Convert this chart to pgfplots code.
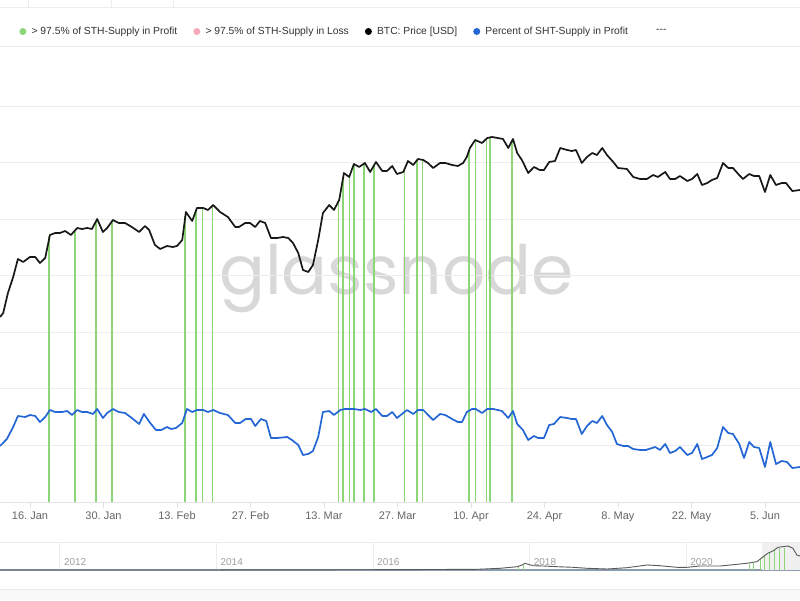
\documentclass[border=0pt]{standalone}
\usepackage{pgfplots}
\pgfplotsset{compat=1.18}
\usepackage{pgfplotstable}
\usepackage{fontspec}
\setmainfont{Liberation Sans}
\newfontfamily\wmfont{Poppins}

\definecolor{sthgreen}{RGB}{140,214,120}
\definecolor{sthpink}{RGB}{244,170,184}
\definecolor{pricecol}{RGB}{24,24,24}
\definecolor{pctblue}{RGB}{36,102,212}
\definecolor{gridc}{RGB}{236,236,236}
\definecolor{axisc}{RGB}{226,226,226}
\definecolor{labc}{RGB}{102,102,102}
\definecolor{legc}{RGB}{51,51,51}
\definecolor{navline}{RGB}{140,156,178}
\definecolor{wmc}{RGB}{216,216,216}

% day of 2021 (1 = 1 Jan); no y scale is shown, so heights are screen units above the x axis
\pgfplotstableread{
day price
10.3 185
10.9 189
11.8 209
12.8 225
13.7 243
14.7 240
16.0 245
17.0 245
17.9 239
18.9 244
19.8 267
20.8 269
21.7 269
22.7 271
23.8 267
25.0 274
25.9 273
26.9 274
27.8 273
28.8 283
29.9 270
30.7 274
31.8 282
32.9 279
34.1 279
35.4 275
36.8 270
37.9 276
38.7 272
39.8 257
40.8 253
42.1 256
43.2 255
44.0 256
45.0 262
45.7 290
46.9 281
47.8 294
49.0 294
49.9 292
50.9 297
52.2 290
53.7 285
55.1 275
55.8 275
57.0 279
57.9 279
58.9 275
59.8 281
60.8 279
61.9 264
63.1 264
64.2 265
65.2 264
66.1 259
67.1 249
68.0 232
69.0 230
69.9 237
70.9 262
71.8 289
73.0 297
73.9 292
74.9 302
75.8 329
76.8 325
77.7 338
78.7 335
79.8 339
80.8 330
81.9 340
83.1 331
84.0 331
85.0 336
85.9 328
87.1 330
88.0 341
89.0 337
89.9 343
90.9 342
91.8 339
92.8 334
94.1 339
95.1 339
96.4 337
97.5 336
98.5 339
99.2 345
99.8 354
100.8 362
102.1 359
103.1 364
104.0 365
105.1 364
106.1 363
107.1 354
108.0 363
108.8 349
109.7 342
110.9 329
112.0 335
113.1 332
113.9 332
114.9 340
116.0 341
117.0 354
118.3 352
119.2 351
120.0 352
121.1 339
122.1 345
123.1 349
124.0 347
125.0 354
125.9 347
127.1 340
128.0 334
129.7 333
130.9 325
132.2 323
133.5 323
134.7 327
135.6 325
137.0 330
137.9 323
138.9 323
139.8 326
141.2 321
142.1 323
143.1 328
144.0 317
145.0 319
145.9 322
146.9 324
148.0 339
149.0 334
149.9 334
150.9 328
151.8 323
153.0 328
153.9 326
154.9 326
156.0 310
157.0 327
158.1 317
159.2 319
160.0 319
161.2 311
162.7 312
}\pricedata

\pgfplotstableread{
day pct
10.3 56
11.6 63
12.8 75
13.7 86
15.1 85
16.0 87
17.0 86
17.9 80
18.9 85
19.8 92
20.8 90
22.1 90
23.1 91
24.0 87
25.0 92
25.9 90
26.9 90
28.0 88
28.8 93
29.9 84
30.7 89
31.8 93
32.9 90
34.1 89
35.4 84
36.8 78
37.7 88
38.9 79
40.0 72
41.0 72
42.1 75
42.9 73
43.8 74
45.0 79
45.9 93
46.9 90
47.8 92
49.0 92
49.9 90
50.9 92
52.2 89
53.7 87
55.1 79
56.0 79
57.1 83
58.1 83
58.9 76
60.0 83
61.0 81
61.9 64
63.1 64
65.0 65
65.9 62
67.1 57
68.0 47
69.0 48
69.9 51
70.9 65
71.8 90
73.0 91
73.9 87
75.1 92
76.0 93
77.0 93
77.7 93
78.9 92
79.8 93
81.0 90
81.9 93
83.1 86
84.0 86
85.0 90
85.9 84
87.8 92
89.0 88
89.9 92
90.9 92
92.8 82
94.1 88
95.1 87
96.4 83
97.5 80
98.3 80
99.2 90
100.2 93
100.9 93
102.1 89
103.1 93
104.2 93
105.1 92
105.9 91
107.1 84
108.0 91
108.8 78
109.9 72
110.9 62
112.0 66
112.8 64
113.9 64
114.9 77
115.8 78
117.0 85
118.3 84
119.2 83
120.0 83
121.1 68
122.1 76
123.1 81
124.0 79
125.0 86
125.9 77
126.9 70
127.8 58
129.0 56
129.9 56
130.9 53
132.2 52
133.3 52
134.5 54
135.1 55
136.0 52
137.0 58
137.9 49
138.9 51
139.8 55
141.2 47
142.1 49
143.1 58
144.0 43
145.0 45
145.9 47
146.9 54
148.0 75
149.0 69
149.9 68
151.1 58
152.0 44
153.0 60
153.9 55
154.9 54
156.0 35
157.0 60
158.1 38
159.2 41
160.2 40
161.2 34
162.7 35
}\pctdata

% days flagged "> 97.5% of STH-Supply in Profit", drawn up to the price line
\pgfplotstableread{
day price
19.6 266
24.6 272
28.6 281
31.6 281
45.5 286
47.6 291
48.8 294
50.7 296
74.7 300
75.6 324
76.8 325
77.7 338
79.6 338
81.5 337
87.4 334
89.7 342
90.7 342
99.6 351
100.8 362
102.9 363
103.6 365
107.8 360
}\profitdays

% navigator: whole history, year vs. screen height
\pgfplotstableread{
year h
2011.24 0
2013.0 0
2015.0 0.1
2016.0 0.3
2016.8 0.5
2017.33 0.7
2017.62 1.7
2017.84 3.3
2017.90 5.0
2017.94 6.7
2017.98 5.7
2018.04 4.3
2018.17 4.0
2018.35 3.3
2018.55 2.7
2018.73 1.7
2018.99 1.0
2019.24 2.3
2019.50 5.0
2019.66 4.3
2019.88 2.7
2020.01 2.7
2020.17 4.0
2020.43 4.0
2020.60 5.3
2020.77 6.7
2020.90 8.3
2020.98 13.3
2021.04 16.7
2021.11 19.3
2021.17 22.7
2021.23 23.3
2021.30 24.0
2021.36 21.7
2021.41 15.0
2021.45 14.0
}\navdata

\pgfplotstableread{
year h
2017.86 3.5
2017.92 5.5
2020.80 6.5
2020.86 7.5
2020.95 11
2021.00 14
2021.06 17
2021.13 20
2021.19 22
2021.25 22.5
}\navgreen

\begin{document}
\frenchspacing
\begin{tikzpicture}
\useasboundingbox (0pt,0pt) rectangle (800pt,600pt);
\fill[white] (0pt,0pt) rectangle (800pt,600pt);
% toolbar strip at the top
\draw[gridc, line width=1pt] (0pt,592pt) -- (800pt,592pt);
\foreach \sx in {28,111,173} \draw[gridc, line width=1pt] (\sx pt,592pt) -- (\sx pt,600pt);
% scrollbar strip at the bottom
\fill[gray!5] (0pt,0pt) rectangle (800pt,10.5pt);
\draw[gridc, line width=1pt] (0pt,11pt) -- (800pt,11pt);
% rule under the legend
\draw[gridc, line width=1pt] (0pt,553pt) -- (800pt,553pt);
\node[font=\wmfont\fontsize{68}{68}\selectfont, text=wmc, inner sep=0pt, anchor=base] at (396.5pt,305pt) {glassnode};

\begin{axis}[
  at={(0pt,98pt)}, anchor=south west,
  width=800pt, height=452pt, scale only axis,
  xmin=10.29, xmax=162.67, ymin=0, ymax=452,
  axis x line*=bottom, axis y line*=left,
  x axis line style={draw=axisc, line width=1pt, -},
  y axis line style={draw=none},
  xtick={16,30,44,58,72,86,100,114,128,142,156},
  xticklabels={16. Jan,30. Jan,13. Feb,27. Feb,13. Mar,27. Mar,10. Apr,24. Apr,8. May,22. May,5. Jun},
  xtick align=outside, major tick length=6pt,
  xtick style={draw=axisc, line width=0.8pt},
  xticklabel style={font=\fontsize{11}{13}\selectfont, text=labc},
  ytick={56.5,113,169.5,226,282.5,339,395.5},
  yticklabels={}, ytick style={draw=none},
  ymajorgrids, grid style={gridc, line width=1pt},
  legend columns=-1,
  legend image code/.code={\fill[#1, draw=none] (0pt,0pt) circle (3.5pt); \path (6.5pt,0pt);},
  legend style={at={(0.024,1.0409)}, anchor=west, draw=none, fill=none,
    font=\fontsize{10.3}{12}\selectfont, text=legc, inner sep=0pt,
    /tikz/every even column/.append style={column sep=14pt}},
]
\addplot[forget plot, ycomb, draw=sthgreen, line width=1.3pt, mark=none] table[x=day, y=price] {\profitdays};
\addplot[forget plot, pctblue, line width=1.7pt, mark=none, line join=round] table[x=day, y=pct] {\pctdata};
\addplot[forget plot, pricecol, line width=1.7pt, mark=none, line join=round] table[x=day, y=price] {\pricedata};

\addlegendimage{fill=sthgreen}
\addlegendentry{> 97.5\% of STH-Supply in Profit}
\addlegendimage{fill=sthpink}
\addlegendentry{> 97.5\% of STH-Supply in Loss}
\addlegendimage{fill=black}
\addlegendentry{BTC: Price [USD]}
\addlegendimage{fill=pctblue}
\addlegendentry{Percent of SHT-Supply in Profit}
\addlegendimage{fill opacity=0}
\addlegendentry{-{}-{}-}
\end{axis}

\begin{axis}[
  at={(0pt,30pt)}, anchor=south west,
  width=800pt, height=28pt, scale only axis,
  xmin=2011.234, xmax=2021.451, ymin=0, ymax=28,
  axis x line*=bottom, axis y line=none,
  x axis line style={draw=navline, line width=1.4pt, -},
  xtick={2012,2014,2016,2018,2020},
  xticklabels={2012,2014,2016,2018,2020},
  major tick length=0pt, xtick style={draw=none},
  xmajorgrids, grid style={gridc, line width=1pt},
  xticklabel style={anchor=south west, font=\fontsize{10}{12}\selectfont, text=gray!75, xshift=0.5pt, yshift=0.5pt},
  clip=false,
]
\fill[gray!12] (axis cs:2020.96,0) rectangle (axis cs:2021.451,28);
\draw[gridc, line width=1pt] (axis cs:2011.234,28) -- (axis cs:2021.451,28);
\addplot[ycomb, draw=sthgreen, line width=1pt, mark=none] table[x=year, y=h] {\navgreen};
\addplot[gray!70!black, line width=0.9pt, mark=none] table[x=year, y=h] {\navdata};
\end{axis}
\end{tikzpicture}
\end{document}
